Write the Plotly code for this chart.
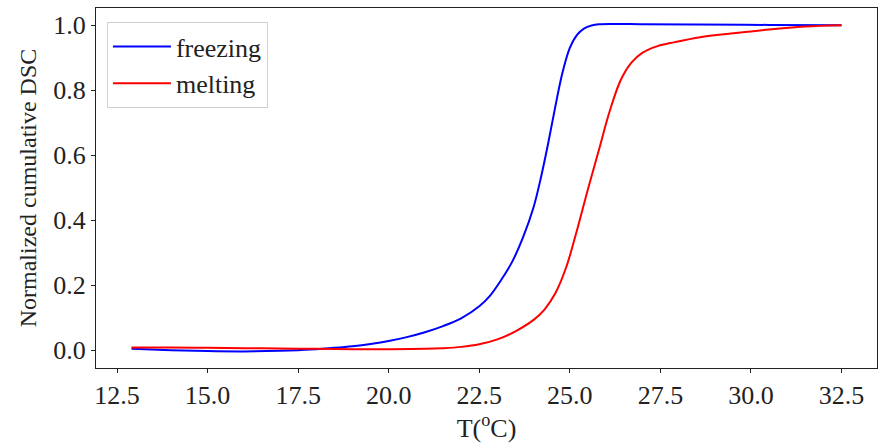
import plotly.graph_objects as go

freezing_T = [12.9, 14.0, 15.0, 16.0, 17.0, 17.5, 18.0, 18.5, 19.0, 19.5, 20.0, 20.5, 21.0, 21.5,
              22.0, 22.5, 22.8, 23.1, 23.4, 23.7, 24.0, 24.2, 24.4, 24.6, 24.8, 25.0, 25.2, 25.4,
              25.6, 25.8, 26.2, 27.0, 28.5, 30.5, 32.5]
freezing = [0.004, 0.0, -0.003, -0.004, -0.002, 0.0, 0.003, 0.007, 0.012, 0.019, 0.028, 0.04,
            0.055, 0.074, 0.098, 0.135, 0.168, 0.215, 0.27, 0.345, 0.44, 0.53, 0.635, 0.75, 0.855,
            0.93, 0.97, 0.99, 0.999, 1.003, 1.004, 1.003, 1.002, 1.001, 1.0]

melting_T = [12.9, 14.0, 15.0, 16.0, 17.0, 18.0, 19.0, 20.0, 21.0, 21.5, 22.0, 22.5, 23.0, 23.5,
             24.0, 24.3, 24.6, 24.9, 25.2, 25.5, 25.8, 26.1, 26.4, 26.7, 27.0, 27.4, 27.9, 28.6,
             29.5, 30.5, 31.5, 32.5]
melting = [0.008, 0.008, 0.007, 0.006, 0.005, 0.004, 0.003, 0.003, 0.004, 0.006, 0.01, 0.018,
           0.033, 0.058, 0.093, 0.125, 0.175, 0.255, 0.37, 0.495, 0.615, 0.735, 0.83, 0.885,
           0.915, 0.935, 0.948, 0.963, 0.975, 0.987, 0.996, 1.0]

x_ticks = [12.5, 15.0, 17.5, 20.0, 22.5, 25.0, 27.5, 30.0, 32.5]
y_ticks = [0.0, 0.2, 0.4, 0.6, 0.8, 1.0]

FONT = "Liberation Serif, Times New Roman, serif"
TXT = "#222222"

fig = go.Figure()
fig.add_trace(go.Scatter(x=freezing_T, y=freezing, mode="lines", name="freezing",
                         line=dict(color="#0000ff", width=2, shape="spline", smoothing=1.0)))
fig.add_trace(go.Scatter(x=melting_T, y=melting, mode="lines", name="melting",
                         line=dict(color="#ff0000", width=2, shape="spline", smoothing=1.0)))

axis_common = dict(showline=True, linecolor=TXT, linewidth=1, mirror=True,
                   ticks="outside", ticklen=4, tickcolor=TXT, showgrid=False,
                   zeroline=False, tickfont=dict(family=FONT, size=26, color=TXT))

fig.update_layout(
    width=880, height=443,
    margin=dict(l=96, r=3, t=8, b=75),
    paper_bgcolor="white", plot_bgcolor="white",
    font=dict(family=FONT, size=24, color=TXT),
    xaxis=dict(range=[11.92, 33.48], tickvals=x_ticks, tickformat=".1f",
               title=dict(text="T(<sup>o</sup>C)", font=dict(family=FONT, size=26, color=TXT), standoff=0),
               **axis_common),
    yaxis=dict(range=[-0.055, 1.053], tickvals=y_ticks, tickformat=".1f",
               title=dict(text="Normalized cumulative DSC", font=dict(family=FONT, size=24, color=TXT), standoff=9),
               **axis_common),
    legend=dict(x=0.014, y=0.961, xanchor="left", yanchor="top",
                bgcolor="rgba(255,255,255,0.8)", bordercolor="#d0d0d0", borderwidth=1,
                itemwidth=58,
                font=dict(family=FONT, size=26, color=TXT)),
    showlegend=True,
)

fig.write_html("out.html")
